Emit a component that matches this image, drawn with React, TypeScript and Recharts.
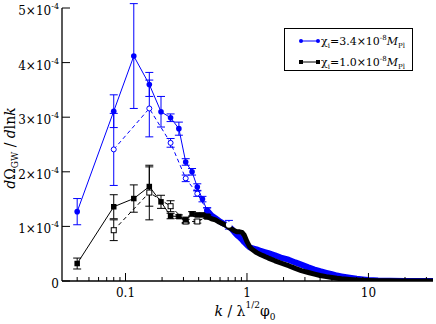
import React from 'react';
import { LineChart, Line, XAxis, YAxis, ErrorBar } from 'recharts';

// k in units of lambda^{1/2} phi_0, spectra in units of 1e-4
const kSparse = [0.04, 0.08, 0.117, 0.157, 0.196, 0.235, 0.275, 0.313, 0.353, 0.39, 0.43, 0.47];
const blueVals = [1.27, 3.11, 4.12, 3.6, 3.1, 2.99, 2.79, 2.18, 2.0, 1.72, 1.5, 1.29];
const blueErr = [0.24, 0.3, 0.96, 0.22, 0.28, 0.07, 0.12, 0.06, 0.06, 0.06, 0.05, 0.05];
const blackVals = [0.32, 1.36, 1.51, 1.73, 1.45, 1.19, 1.18, 1.12, 1.23, 1.21, 1.21, 1.18];
const blackErr = [0.1, 0.22, 0.25, 0.36, 0.12, 0.05, 0.03, 0.05, 0.04, 0.03, 0.03, 0.03];

const kDashed = [0.08, 0.157, 0.235, 0.313, 0.39, 0.47];
const blueDashedVals = [2.41, 3.16, 2.53, 1.88, 1.6, 1.29];
const blueDashedErr = [0.66, 0.52, 0.08, 0.06, 0.05, 0.05];
const blackDashedVals = [0.93, 1.62, 1.37, 1.09, 1.09, 1.18];
const blackDashedErr = [0.19, 0.5, 0.1, 0.04, 0.03, 0.03];

// the crowded part of both runs, k > 0.47
const kDense = [
  0.47, 0.51, 0.55, 0.59, 0.63, 0.67, 0.71, 0.75, 0.79, 0.83,
  0.87, 0.91, 0.95, 1.0, 1.05, 1.1, 1.2, 1.3, 1.4, 1.5,
  1.7, 1.9, 2.2, 2.5, 2.8, 3.2, 3.6, 4.0, 4.5, 5,
  5.5, 6, 7, 8, 9, 10, 12, 15, 20, 25,
  30, 34,
];
const blueDense = [
  1.29, 1.2, 1.15, 1.1, 1.06, 1.03, 1.0, 0.95, 0.89, 0.84,
  0.8, 0.76, 0.71, 0.66, 0.62, 0.6, 0.58, 0.55, 0.53, 0.51,
  0.47, 0.43, 0.39, 0.34, 0.3, 0.25, 0.21, 0.18, 0.15, 0.125,
  0.1, 0.085, 0.06, 0.04, 0.028, 0.018, 0.009, 0.004, 0.002, 0.001,
  0, 0,
];
const blackDense = [
  1.18, 1.14, 1.12, 1.08, 1.05, 1.02, 0.98, 0.95, 0.92, 0.9,
  0.9, 0.89, 0.84, 0.72, 0.63, 0.58, 0.52, 0.48, 0.45, 0.42,
  0.37, 0.33, 0.28, 0.23, 0.19, 0.155, 0.125, 0.1, 0.08, 0.065,
  0.05, 0.04, 0.028, 0.02, 0.014, 0.01, 0.005, 0.003, 0.001, 0,
  0, 0,
];
const kBlueBar = [0.71];
const blueBarVals = [1.03];
const blueBarErr = [0.08];

const xTicks = [
  0.04, 0.05, 0.06, 0.07, 0.08, 0.09, 0.1, 0.2, 0.3, 0.4, 0.5, 0.6, 0.7, 0.8, 0.9,
  1, 2, 3, 4, 5, 6, 7, 8, 9, 10, 20, 30,
];
const xMajor = [0.1, 1, 10];
const yTicks = [0, 1, 2, 3, 4, 5];

const BLUE = '#0000ff';
const SERIF = 'DejaVu Serif';

const zip = (ks: number[], vs: number[], es?: number[]) =>
  ks.map((k, i) => ({ k, v: vs[i], e: es ? es[i] : 0 }));

const blueSolid = zip(kSparse, blueVals, blueErr);
const blackSolid = zip(kSparse, blackVals, blackErr);
const blueDashed = zip(kDashed, blueDashedVals, blueDashedErr);
const blackDashed = zip(kDashed, blackDashedVals, blackDashedErr);
const blueDenseData = zip(kDense, blueDense);
const blackDenseData = zip(kDense, blackDense);
const blueBar = zip(kBlueBar, blueBarVals, blueBarErr);

function BottomTick({ x, y, payload }: any) {
  const major = xMajor.includes(payload.value);
  return (
    <g>
      <line x1={x} x2={x} y1={y} y2={y - (major ? 8 : 4)} stroke="#000" />
      {major && (
        <text x={x} y={y + 16} textAnchor="middle" fontSize={12} fontFamily={SERIF} fill="#000">
          {String(payload.value)}
        </text>
      )}
    </g>
  );
}

function TopTick({ x, y, payload }: any) {
  const major = xMajor.includes(payload.value);
  return <line x1={x} x2={x} y1={y} y2={y + (major ? 8 : 4)} stroke="#000" />;
}

function LeftTick({ x, y, payload }: any) {
  const v = payload.value;
  return (
    <g>
      <line x1={x} x2={x + 8} y1={y} y2={y} stroke="#000" />
      <text x={x - 3} y={y + 7} textAnchor="end" fontSize={12} fontFamily={SERIF} fill="#000">
        {v === 0 ? (
          '0'
        ) : (
          <>
            {`${v}×10`}
            <tspan dy={-6} fontSize={8}>-4</tspan>
          </>
        )}
      </text>
    </g>
  );
}

function RightTick({ x, y }: any) {
  return <line x1={x} x2={x - 8} y1={y} y2={y} stroke="#000" />;
}

const square = (size: number, filled: boolean, color: string) => (p: any) => (
  <rect
    key={p.index}
    x={p.cx - size / 2}
    y={p.cy - size / 2}
    width={size}
    height={size}
    fill={filled ? color : '#fff'}
    stroke={color}
    strokeWidth={filled ? 0 : 1}
  />
);

export default function App() {
  return (
    <div style={{ position: 'relative', width: 436, height: 324, background: '#fff' }}>
      <style>{'body{margin:0}'}</style>
      <LineChart width={436} height={324} margin={{ top: 8, right: 3, bottom: 0, left: 0 }}>
        <XAxis
          dataKey="k"
          type="number"
          scale="log"
          domain={[0.03, 34]}
          allowDataOverflow
          ticks={xTicks}
          interval={0}
          height={43}
          tickSize={0}
          tickMargin={0}
          tickLine={false}
          tick={<BottomTick />}
          axisLine={{ stroke: '#000', strokeWidth: 1.3 }}
        />
        <XAxis
          xAxisId="top"
          orientation="top"
          dataKey="k"
          type="number"
          scale="log"
          domain={[0.03, 34]}
          allowDataOverflow
          ticks={xTicks}
          interval={0}
          height={0}
          tickSize={0}
          tickMargin={0}
          tickLine={false}
          tick={<TopTick />}
          axisLine={{ stroke: '#000', strokeWidth: 1.3 }}
        />
        <YAxis
          type="number"
          domain={[0, 5]}
          allowDataOverflow
          ticks={yTicks}
          interval={0}
          width={62}
          tickSize={0}
          tickMargin={0}
          tickLine={false}
          tick={<LeftTick />}
          axisLine={{ stroke: '#000', strokeWidth: 1.3 }}
        />
        <YAxis
          yAxisId="r"
          orientation="right"
          type="number"
          domain={[0, 5]}
          allowDataOverflow
          ticks={yTicks}
          interval={0}
          width={0}
          tickSize={0}
          tickMargin={0}
          tickLine={false}
          tick={<RightTick />}
          axisLine={{ stroke: '#000', strokeWidth: 1.3 }}
        />

        <Line
          data={blueDashed}
          dataKey="v"
          stroke={BLUE}
          strokeWidth={1}
          strokeDasharray="4 3"
          dot={{ r: 2.5, fill: '#fff', stroke: BLUE, strokeWidth: 1, strokeDasharray: '0' }}
          isAnimationActive={false}
        >
          <ErrorBar dataKey="e" direction="y" width={4} stroke={BLUE} strokeWidth={1} />
        </Line>
        <Line
          data={blueDenseData}
          dataKey="v"
          stroke={BLUE}
          strokeWidth={6}
          strokeLinejoin="round"
          strokeLinecap="round"
          dot={false}
          isAnimationActive={false}
        />
        <Line data={blueBar} dataKey="v" stroke="none" dot={false} isAnimationActive={false}>
          <ErrorBar dataKey="e" direction="y" width={4} stroke={BLUE} strokeWidth={1} />
        </Line>
        <Line
          data={blueSolid}
          dataKey="v"
          stroke={BLUE}
          strokeWidth={1}
          dot={{ r: 2.8, fill: BLUE, stroke: BLUE, strokeWidth: 0 }}
          isAnimationActive={false}
        >
          <ErrorBar dataKey="e" direction="y" width={4} stroke={BLUE} strokeWidth={1} />
        </Line>

        <Line
          data={blackDashed}
          dataKey="v"
          stroke="#000"
          strokeWidth={1}
          strokeDasharray="4 3"
          dot={square(5, false, '#000')}
          isAnimationActive={false}
        >
          <ErrorBar dataKey="e" direction="y" width={4} stroke="#000" strokeWidth={1} />
        </Line>
        <Line
          data={blackDenseData}
          dataKey="v"
          stroke="#000"
          strokeWidth={5}
          strokeLinejoin="round"
          strokeLinecap="round"
          dot={false}
          isAnimationActive={false}
        />
        <Line
          data={blackSolid}
          dataKey="v"
          stroke="#000"
          strokeWidth={1}
          dot={square(5.5, true, '#000')}
          isAnimationActive={false}
        >
          <ErrorBar dataKey="e" direction="y" width={4} stroke="#000" strokeWidth={1} />
        </Line>
      </LineChart>

      <svg
        width={436}
        height={324}
        fontFamily={SERIF}
        style={{ position: 'absolute', left: 0, top: 0, pointerEvents: 'none' }}
      >
        <text transform="rotate(-90)" x={-148} y={15} textAnchor="middle" fontSize={14} fill="#000">
          <tspan fontStyle="italic">d</tspan>Ω
          <tspan dy={3} fontSize={9}>GW</tspan>
          <tspan dy={-3}> / </tspan>
          <tspan fontStyle="italic">d</tspan>ln
          <tspan fontStyle="italic">k</tspan>
        </text>
        <text x={245} y={316} textAnchor="middle" fontSize={14} fill="#000">
          <tspan fontStyle="italic">k</tspan> / λ
          <tspan dy={-8} fontSize={9}>1/2</tspan>
          <tspan dy={8}>φ</tspan>
          <tspan dy={4} fontSize={9}>0</tspan>
        </text>

        <rect x={284.5} y={28.5} width={128} height={42} fill="#fff" stroke="#000" strokeWidth={1} />
        <line x1={301} x2={318} y1={41} y2={41} stroke={BLUE} />
        <circle cx={301} cy={41} r={2} fill={BLUE} />
        <circle cx={318} cy={41} r={2} fill={BLUE} />
        <text x={321} y={45} fontSize={11} fill="#000">
          χ<tspan dy={3} fontSize={7}>i</tspan>
          <tspan dy={-3}>=3.4×10</tspan>
          <tspan dy={-5} fontSize={7}>-8</tspan>
          <tspan dy={5} fontStyle="italic">M</tspan>
          <tspan dy={3} fontSize={7}>Pl</tspan>
        </text>
        <line x1={301} x2={318} y1={62} y2={62} stroke="#000" />
        <rect x={299} y={60} width={4} height={4} fill="#000" />
        <rect x={316} y={60} width={4} height={4} fill="#000" />
        <text x={321} y={66} fontSize={11} fill="#000">
          χ<tspan dy={3} fontSize={7}>i</tspan>
          <tspan dy={-3}>=1.0×10</tspan>
          <tspan dy={-5} fontSize={7}>-8</tspan>
          <tspan dy={5} fontStyle="italic">M</tspan>
          <tspan dy={3} fontSize={7}>Pl</tspan>
        </text>
      </svg>
    </div>
  );
}
